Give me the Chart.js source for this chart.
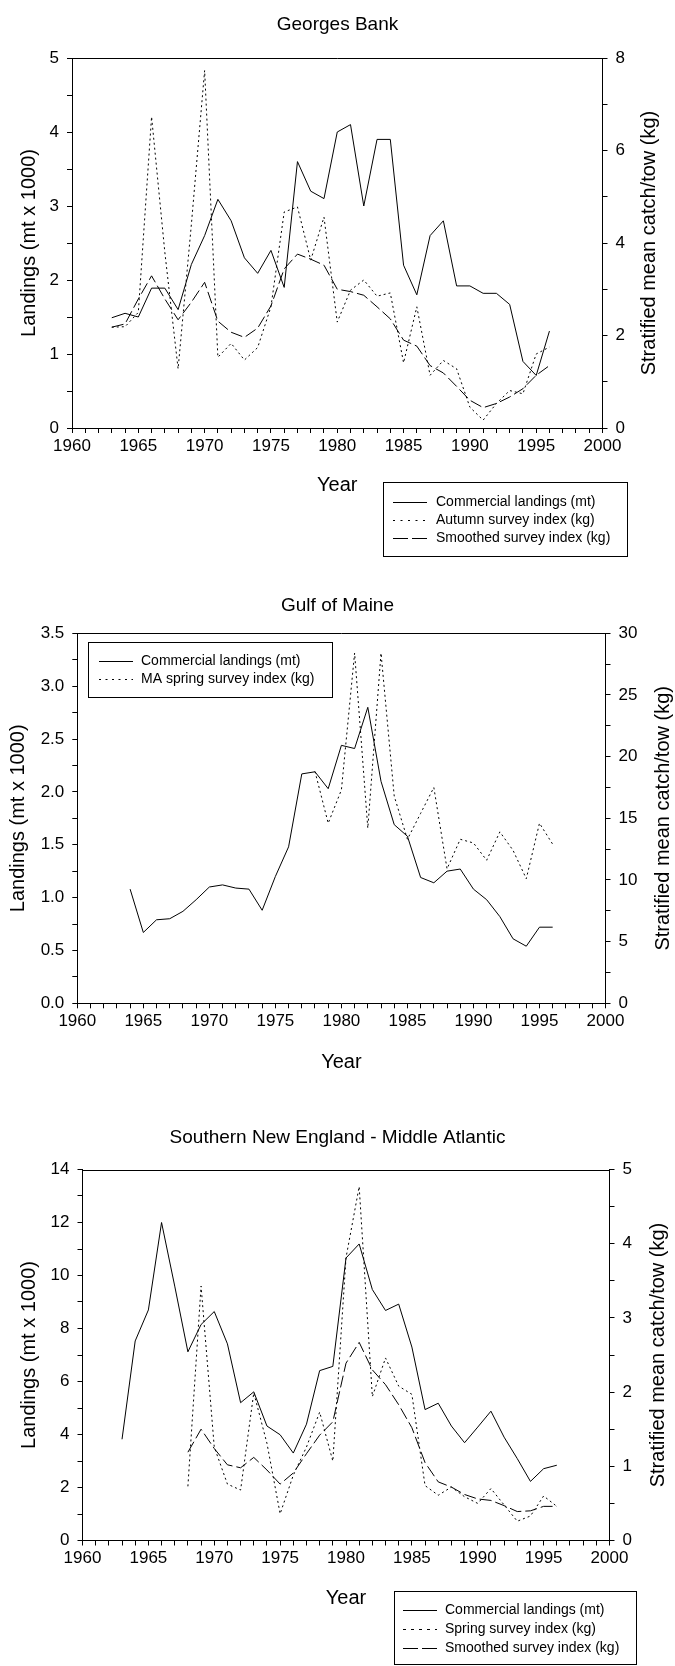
<!DOCTYPE html>
<html>
<head>
<meta charset="utf-8">
<title>Landings and survey indices</title>
<script src="https://cdn.jsdelivr.net/npm/chart.js@4.4.1/dist/chart.umd.min.js"></script>
<style>
    html, body { margin: 0; padding: 0; background: #fff; }
    body { width: 675px; height: 1666px; position: relative; overflow: hidden; }
    canvas { position: absolute; left: 0; }
</style>
</head>
<body>
<canvas id="gbChart" width="675" height="570" style="top:0px"></canvas>
<canvas id="gomChart" width="675" height="545" style="top:570px"></canvas>
<canvas id="sneChart" width="675" height="551" style="top:1115px"></canvas>
<script>
// Georges Bank
const gbYears = [1963, 1964, 1965, 1966, 1967, 1968, 1969, 1970, 1971, 1972, 1973, 1974, 1975, 1976, 1977, 1978, 1979,
    1980, 1981, 1982, 1983, 1984, 1985, 1986, 1987, 1988, 1989, 1990, 1991, 1992, 1993, 1994, 1995, 1996];
const gbLandings = [1.49, 1.55, 1.50, 1.89, 1.89, 1.60, 2.21, 2.60, 3.09, 2.80, 2.30, 2.09, 2.40, 1.90, 3.60, 3.20, 3.10,
    4.00, 4.10, 3.00, 3.90, 3.90, 2.20, 1.80, 2.60, 2.80, 1.92, 1.92, 1.82, 1.82, 1.67, 0.90, 0.71, 1.31];
const gbAutumn = [2.18, 2.19, 2.50, 6.73, 3.80, 1.28, 4.40, 7.73, 1.53, 1.83, 1.47, 1.74, 2.62, 4.67, 4.78, 3.63, 4.56,
    2.29, 2.98, 3.20, 2.85, 2.92, 1.41, 2.62, 1.14, 1.46, 1.28, 0.45, 0.17, 0.53, 0.81, 0.74, 1.60, 1.75];
const gbSmoothed = [2.18, 2.25, 2.79, 3.29, 2.79, 2.34, 2.72, 3.15, 2.31, 2.07, 1.96, 2.16, 2.64, 3.44, 3.76, 3.65, 3.52,
    3.00, 2.95, 2.87, 2.62, 2.36, 1.90, 1.77, 1.35, 1.19, 0.90, 0.60, 0.44, 0.53, 0.67, 0.85, 1.14, 1.35];

// Gulf of Maine
const gomYears = [1964, 1965, 1966, 1967, 1968, 1969, 1970, 1971, 1972, 1973, 1974, 1975, 1976, 1977, 1978, 1979,
    1980, 1981, 1982, 1983, 1984, 1985, 1986, 1987, 1988, 1989, 1990, 1991, 1992, 1993, 1994, 1995, 1996];
const gomLandings = [1.08, 0.67, 0.79, 0.80, 0.87, 0.98, 1.10, 1.12, 1.09, 1.08, 0.88, 1.20, 1.48, 2.17, 2.19, 2.03,
    2.44, 2.41, 2.80, 2.10, 1.69, 1.58, 1.19, 1.14, 1.25, 1.27, 1.08, 0.98, 0.82, 0.61, 0.54, 0.72, 0.72];
const gomSpring = [null, null, null, null, null, null, null, null, null, null, null, null, null, null, 18.8, 14.6,
    17.3, 28.4, 14.2, 28.4, 16.8, 13.3, 15.4, 17.5, 10.9, 13.3, 13.0, 11.6, 13.9, 12.4, 10.1, 14.6, 12.9];

// Southern New England - Middle Atlantic
const sneYears = [1963, 1964, 1965, 1966, 1967, 1968, 1969, 1970, 1971, 1972, 1973, 1974, 1975, 1976, 1977, 1978, 1979,
    1980, 1981, 1982, 1983, 1984, 1985, 1986, 1987, 1988, 1989, 1990, 1991, 1992, 1993, 1994, 1995, 1996];
const sneLandings = [3.82, 7.53, 8.70, 12.00, 9.60, 7.12, 8.15, 8.64, 7.42, 5.20, 5.61, 4.32, 3.99, 3.30, 4.39, 6.41, 6.57,
    10.66, 11.19, 9.47, 8.68, 8.92, 7.30, 4.94, 5.18, 4.32, 3.69, 4.28, 4.88, 3.90, 3.09, 2.23, 2.71, 2.84];
const sneSpring = [null, null, null, null, null, 0.73, 3.43, 1.26, 0.76, 0.68, 1.99, 1.31, 0.36, 0.88, 1.26, 1.73, 1.07,
    3.81, 4.77, 1.94, 2.46, 2.08, 1.97, 0.74, 0.61, 0.72, 0.59, 0.50, 0.70, 0.48, 0.26, 0.33, 0.60, 0.46];
const sneSmoothed = [null, null, null, null, null, 1.19, 1.50, 1.24, 1.02, 0.98, 1.12, 0.95, 0.76, 0.91, 1.17, 1.42, 1.60,
    2.39, 2.67, 2.30, 2.10, 1.83, 1.52, 1.05, 0.79, 0.72, 0.62, 0.56, 0.54, 0.47, 0.39, 0.40, 0.46, 0.46];

const FONT = "'Liberation Sans', Arial, sans-serif";
const DOTTED = [2, 3];
const DASHED = [12, 4];

Chart.defaults.font.family = FONT;
Chart.defaults.color = '#000';

const toPoints = (years, values) => years.map((yr, i) => ({ x: yr, y: values[i] }));

const lineSet = (label, years, values, axis, dash) => ({
    label,
    data: toPoints(years, values),
    yAxisID: axis,
    borderColor: '#000',
    borderWidth: 1,
    borderDash: dash,
    pointRadius: 0,
    tension: 0,
    fill: false,
});

// top edge of the plot frame
const frameTop = {
    id: 'frameTop',
    afterDraw(chart) {
        const { ctx, chartArea } = chart;
        const y = Math.round(chartArea.top) + 0.5;
        ctx.save();
        ctx.strokeStyle = '#000';
        ctx.lineWidth = 1;
        ctx.beginPath();
        ctx.moveTo(chartArea.left, y);
        ctx.lineTo(chartArea.right, y);
        ctx.stroke();
        ctx.restore();
    }
};

// right axis title reads bottom-to-top, which the scale title can't do
const rightTitle = {
    id: 'rightTitle',
    afterDraw(chart, args, opts) {
        const { ctx, chartArea } = chart;
        ctx.save();
        ctx.translate(opts.x, (chartArea.top + chartArea.bottom) / 2);
        ctx.rotate(-Math.PI / 2);
        ctx.font = `20px ${FONT}`;
        ctx.fillStyle = '#000';
        ctx.textAlign = 'center';
        ctx.textBaseline = 'middle';
        ctx.fillText(opts.text, 0, 0);
        ctx.restore();
    }
};

// boxed legend
const boxLegend = {
    id: 'boxLegend',
    afterDraw(chart, args, opts) {
        const { ctx } = chart;
        ctx.save();
        ctx.strokeStyle = '#000';
        ctx.lineWidth = 1;
        ctx.strokeRect(opts.x + 0.5, opts.y + 0.5, opts.w, opts.h);
        ctx.font = `14px ${FONT}`;
        ctx.fillStyle = '#000';
        ctx.textBaseline = 'middle';
        chart.data.datasets.forEach((ds, i) => {
            const y = Math.round(opts.firstRow + i * opts.rowGap) + 0.5;
            ctx.setLineDash(opts.dashes[i]);
            ctx.beginPath();
            ctx.moveTo(opts.lineX, y);
            ctx.lineTo(opts.lineX + 34, y);
            ctx.stroke();
            ctx.setLineDash([]);
            ctx.fillText(ds.label, opts.textX, y);
        });
        ctx.restore();
    }
};

const yearAxis = (height, titlePad) => ({
    type: 'linear',
    position: 'bottom',
    min: 1960,
    max: 2000,
    border: { color: '#000', width: 1 },
    grid: { drawOnChartArea: false, tickLength: 5, color: '#000', lineWidth: 1 },
    ticks: {
        stepSize: 1, autoSkip: false, maxRotation: 0, padding: 3, font: { size: 17 },
        callback: (v) => (v % 5 === 0 ? String(v) : ''),
    },
    title: { display: true, text: 'Year', font: { size: 20 }, padding: { top: 0, bottom: titlePad } },
    afterFit: (scale) => { scale.height = height; },
});

const valueAxis = (position, min, max, step, label, width, title) => ({
    type: 'linear',
    position,
    min,
    max,
    border: { color: '#000', width: 1 },
    grid: { drawOnChartArea: false, tickLength: 5, color: '#000', lineWidth: 1 },
    ticks: { stepSize: step, autoSkip: false, padding: 8, font: { size: 17 }, callback: label },
    title: title ? { display: true, text: title.text, font: { size: 20 }, padding: { top: title.pad, bottom: 0 } } : { display: false },
    afterFit: (scale) => { scale.width = width; },
});

const makeChart = (id, spec) => {
    const canvas = document.getElementById(id);
    const H = canvas.height;
    return new Chart(canvas, {
        type: 'line',
        data: { datasets: spec.datasets },
        options: {
            responsive: false,
            animation: false,
            layout: { padding: 0 },
            plugins: {
                legend: { display: false },
                tooltip: { enabled: false },
                title: {
                    display: true,
                    text: spec.title,
                    color: '#000',
                    font: { size: 19, weight: 'normal' },
                    padding: { top: spec.titleTop, bottom: spec.plotTop - spec.titleTop - 22.8 },
                },
                rightTitle: { text: 'Stratified mean catch/tow (kg)', x: spec.rightTitleX },
                boxLegend: spec.legend,
            },
            scales: {
                x: yearAxis(H - spec.plotBottom, spec.yearPad),
                y: valueAxis('left', spec.left.min, spec.left.max, spec.left.step, spec.left.label,
                    spec.plotLeft, { text: 'Landings (mt x 1000)', pad: spec.leftTitlePad }),
                y1: valueAxis('right', spec.right.min, spec.right.max, spec.right.step, spec.right.label,
                    675 - spec.plotRight, null),
            },
        },
        plugins: [frameTop, rightTitle, boxLegend],
    });
};

makeChart('gbChart', {
    title: 'Georges Bank',
    titleTop: 13, plotTop: 58, plotBottom: 428, plotLeft: 72, plotRight: 602.5,
    yearPad: 73, leftTitlePad: 17, rightTitleX: 649,
    left: { min: 0, max: 5, step: 0.5, label: (v) => (Number.isInteger(v) ? String(v) : '') },
    right: { min: 0, max: 8, step: 1, label: (v) => (v % 2 === 0 ? String(v) : '') },
    datasets: [
        lineSet('Commercial landings (mt)', gbYears, gbLandings, 'y', []),
        lineSet('Autumn survey index (kg)', gbYears, gbAutumn, 'y1', DOTTED),
        lineSet('Smoothed survey index (kg)', gbYears, gbSmoothed, 'y1', DASHED),
    ],
    legend: { x: 383, y: 482, w: 244, h: 74, firstRow: 502, rowGap: 18, lineX: 393, textX: 436,
        dashes: [[], [2, 5.5], [15, 4]] },
});

makeChart('gomChart', {
    title: 'Gulf of Maine',
    titleTop: 24, plotTop: 63.3, plotBottom: 433.3, plotLeft: 77.3, plotRight: 605.5,
    yearPad: 41, leftTitlePad: 6, rightTitleX: 663,
    left: { min: 0, max: 3.5, step: 0.25, label: (v) => (Number.isInteger(v * 2) ? v.toFixed(1) : '') },
    right: { min: 0, max: 30, step: 2.5, label: (v) => (v % 5 === 0 ? String(v) : '') },
    datasets: [
        lineSet('Commercial landings (mt)', gomYears, gomLandings, 'y', []),
        lineSet('MA spring survey index (kg)', gomYears, gomSpring, 'y1', DOTTED),
    ],
    legend: { x: 88, y: 72, w: 244, h: 55, firstRow: 91, rowGap: 18, lineX: 99, textX: 141,
        dashes: [[], [2, 4.5]] },
});

makeChart('sneChart', {
    title: 'Southern New England - Middle Atlantic',
    titleTop: 11.5, plotTop: 54.5, plotBottom: 425.5, plotLeft: 82.5, plotRight: 609.5,
    yearPad: 56, leftTitlePad: 17, rightTitleX: 658,
    left: { min: 0, max: 14, step: 1, label: (v) => (v % 2 === 0 ? String(v) : '') },
    right: { min: 0, max: 5, step: 0.5, label: (v) => (Number.isInteger(v) ? String(v) : '') },
    datasets: [
        lineSet('Commercial landings (mt)', sneYears, sneLandings, 'y', []),
        lineSet('Spring survey index (kg)', sneYears, sneSpring, 'y1', DOTTED),
        lineSet('Smoothed survey index (kg)', sneYears, sneSmoothed, 'y1', DASHED),
    ],
    legend: { x: 394, y: 476, w: 242, h: 73, firstRow: 495, rowGap: 19, lineX: 403, textX: 445,
        dashes: [[], [3, 5], [15, 4]] },
});
</script>
</body>
</html>
